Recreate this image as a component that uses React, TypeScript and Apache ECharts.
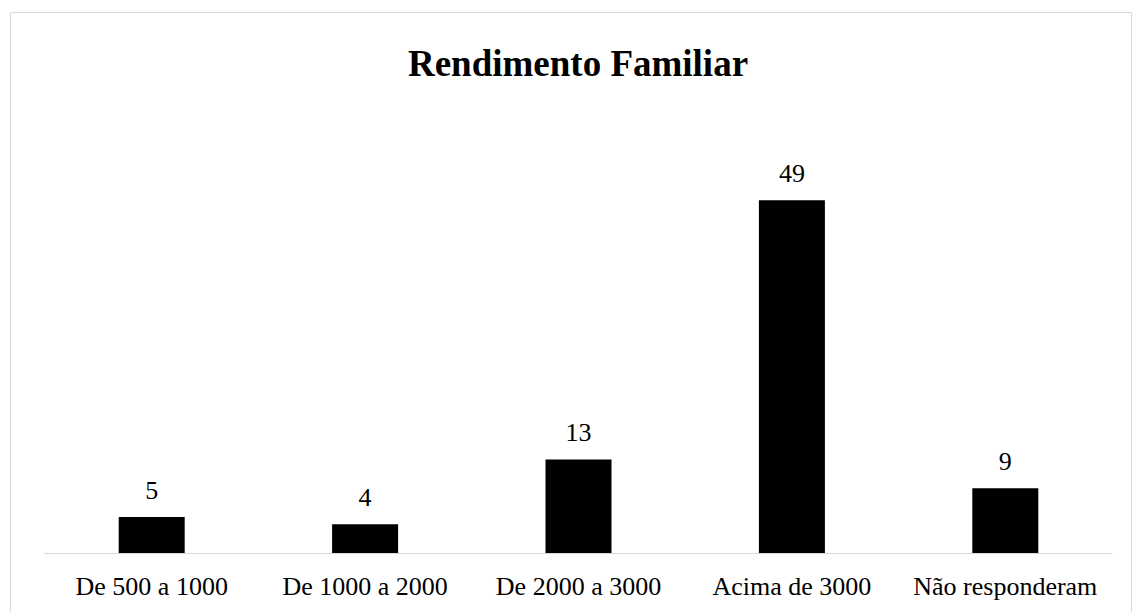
import React, { useEffect, useRef } from "react";
import * as echarts from "echarts";

const categories = ["De 500 a 1000", "De 1000 a 2000", "De 2000 a 3000", "Acima de 3000", "Não responderam"];
const values = [5, 4, 13, 49, 9];
const titleText = "Rendimento Familiar";

const FONT = "Liberation Serif";

export default function App() {
  const ref = useRef<HTMLDivElement>(null);
  useEffect(() => {
    if (!ref.current) return;
    const chart = echarts.init(ref.current, null, { renderer: "svg" });
    chart.setOption({
      animation: false,
      backgroundColor: "#ffffff",
      title: {
        text: titleText,
        left: 573,
        textAlign: "center",
        top: 40,
        textStyle: { fontFamily: FONT, fontSize: 37, fontWeight: "bold", color: "#000" },
      },
      graphic: [
        {
          type: "rect",
          shape: { x: 10.5, y: 12.5, width: 1121, height: 620 },
          style: { fill: "none", stroke: "#d9d9d9", lineWidth: 1 },
          silent: true,
          z: -1,
        },
      ],
      grid: { left: 45, right: 20, top: 121, bottom: 59 },
      xAxis: {
        type: "category",
        data: categories,
        axisLine: { show: true, lineStyle: { color: "#d9d9d9", width: 1 } },
        axisTick: { show: false },
        axisLabel: { color: "#000", fontFamily: FONT, fontSize: 26, margin: 20, interval: 0 },
      },
      yAxis: {
        type: "value",
        min: 0,
        max: 60,
        show: false,
        splitLine: { show: false },
      },
      series: [
        {
          type: "bar",
          data: values,
          barWidth: 66,
          itemStyle: { color: "#000" },
          label: {
            show: true,
            position: "top",
            distance: 14,
            color: "#000",
            fontFamily: FONT,
            fontSize: 26,
          },
        },
      ],
    });
    return () => chart.dispose();
  }, []);
  return <div ref={ref} style={{ position: "fixed", left: 0, top: 0, width: 1132, height: 612 }} />;
}
